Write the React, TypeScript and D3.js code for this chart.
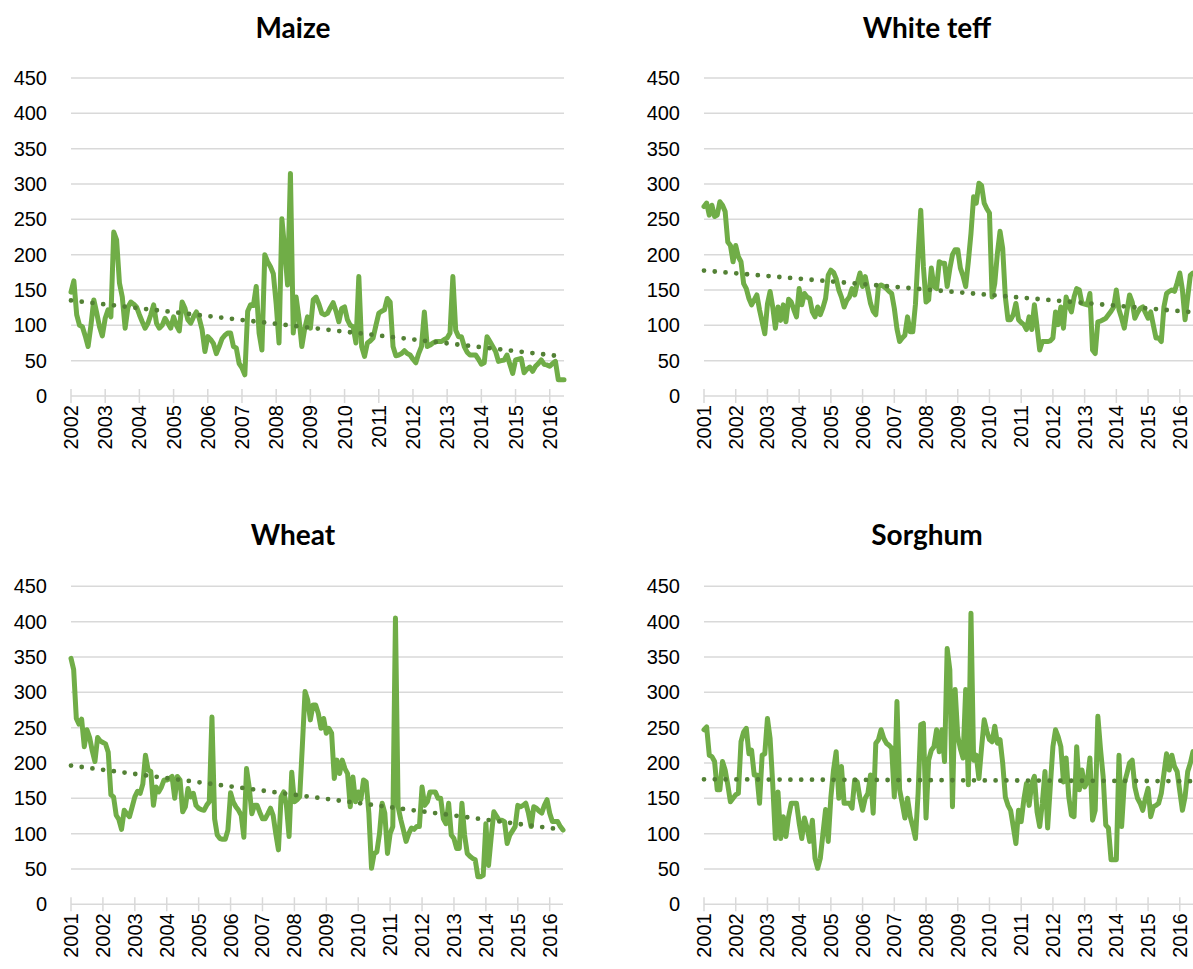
import React from 'react';
import * as d3 from 'd3';

// Monthly price index series, one value per month.
const maizeStartYear = 2002;
const maizePrices = [
  147, 163, 115, 100, 98, 85, 70, 100, 136, 118,
  98, 85, 110, 122, 112, 232, 221, 160, 140, 96,
  126, 133, 130, 126, 115, 105, 96, 103, 115, 129,
  103, 96, 100, 110, 103, 96, 112, 100, 92, 133,
  124, 108, 103, 112, 119, 110, 94, 63, 84, 80,
  74, 60, 70, 81, 86, 89, 89, 70, 68, 46,
  40, 30, 120, 129, 128, 155, 89, 65, 200, 190,
  183, 173, 130, 75, 251, 207, 157, 315, 89, 140,
  110, 70, 95, 112, 96, 136, 140, 130, 117, 115,
  117, 125, 132, 120, 105, 124, 126, 108, 100, 98,
  75, 169, 70, 56, 75, 78, 82, 100, 117, 120,
  122, 138, 133, 70, 57, 58, 60, 64, 60, 58,
  52, 47, 60, 70, 119, 70, 72, 75, 77, 77,
  77, 80, 82, 89, 169, 93, 84, 84, 70, 62,
  58, 58, 58, 52, 45, 47, 84, 77, 70, 63,
  49, 50, 51, 58, 45, 32, 51, 52, 53, 33,
  38, 41, 35, 42, 46, 51, 45, 44, 42, 46,
  49, 23, 23, 23,
];

const teffStartYear = 2001;
const teffPrices = [
  268, 273, 256, 270, 254, 256, 275, 270, 261, 218,
  213, 190, 213, 197, 190, 159, 152, 138, 129, 136,
  143, 122, 105, 88, 130, 148, 126, 96, 126, 107,
  129, 105, 137, 133, 122, 112, 152, 129, 145, 140,
  138, 119, 112, 126, 115, 125, 138, 171, 178, 175,
  166, 150, 140, 126, 135, 140, 152, 143, 160, 174,
  155, 169, 150, 131, 120, 115, 155, 157, 155, 152,
  148, 145, 124, 95, 77, 82, 86, 112, 91, 91,
  130, 200, 263, 183, 133, 136, 181, 155, 152, 190,
  188, 188, 155, 180, 200, 207, 207, 181, 170, 155,
  190, 230, 282, 273, 301, 298, 273, 265, 259, 140,
  159, 202, 233, 209, 140, 108, 108, 115, 131, 108,
  104, 101, 94, 112, 94, 129, 98, 65, 77, 77,
  77, 78, 82, 119, 101, 126, 96, 140, 128, 119,
  140, 152, 150, 131, 130, 129, 145, 65, 60, 105,
  106, 108, 110, 115, 120, 126, 150, 122, 110, 96,
  120, 143, 133, 110, 118, 124, 126, 118, 110, 119,
  100, 82, 82, 77, 126, 145, 148, 150, 148, 160,
  174, 150, 108, 140, 171, 174,
];

const wheatStartYear = 2001;
const wheatPrices = [
  348, 332, 263, 255, 262, 223, 247, 236, 217, 202,
  236, 231, 229, 227, 215, 155, 152, 126, 120, 106,
  133, 128, 124, 138, 152, 160, 157, 170, 211, 190,
  188, 140, 166, 159, 166, 176, 176, 178, 181, 150,
  181, 176, 131, 138, 164, 152, 157, 140, 136, 134,
  133, 140, 145, 265, 121, 98, 93, 92, 92, 105,
  158, 145, 138, 133, 126, 95, 192, 166, 128, 140,
  140, 130, 121, 121, 128, 136, 126, 100, 77, 152,
  159, 140, 96, 187, 145, 148, 152, 225, 301, 289,
  261, 282, 282, 270, 249, 263, 242, 249, 242, 178,
  204, 185, 204, 192, 185, 138, 180, 145, 159, 148,
  176, 173, 129, 51, 72, 74, 100, 143, 129, 72,
  100, 110, 405, 138, 120, 105, 89, 100, 108, 106,
  110, 110, 166, 140, 145, 159, 159, 159, 150, 150,
  121, 114, 143, 98, 93, 79, 79, 143, 98, 72,
  68, 65, 63, 39, 39, 41, 114, 55, 95, 131,
  125, 119, 119, 117, 86, 98, 104, 110, 140, 138,
  140, 143, 129, 110, 138, 136, 132, 129, 140, 148,
  129, 117, 117, 117, 110, 105,
];

const sorghumStartYear = 2001;
const sorghumPrices = [
  247, 251, 211, 209, 202, 162, 162, 202, 190, 169,
  145, 150, 155, 157, 230, 244, 249, 213, 218, 183,
  183, 143, 211, 213, 263, 235, 170, 93, 159, 93,
  124, 96, 124, 143, 143, 143, 115, 93, 122, 108,
  89, 119, 65, 51, 65, 100, 134, 89, 152, 190,
  216, 150, 195, 143, 143, 143, 136, 176, 173, 150,
  133, 150, 157, 183, 129, 228, 233, 247, 235, 228,
  225, 221, 152, 287, 162, 143, 122, 150, 124, 110,
  93, 157, 254, 256, 122, 204, 218, 223, 247, 216,
  247, 202, 362, 332, 138, 304, 238, 220, 207, 304,
  169, 412, 204, 211, 178, 221, 261, 245, 233, 230,
  252, 228, 233, 200, 152, 140, 133, 110, 86, 133,
  117, 148, 171, 140, 171, 181, 131, 110, 143, 188,
  108, 166, 223, 247, 237, 223, 173, 207, 152, 126,
  124, 223, 162, 190, 166, 173, 207, 119, 133, 266,
  220, 181, 112, 108, 63, 63, 63, 211, 110, 171,
  185, 200, 204, 166, 150, 143, 133, 150, 164, 124,
  138, 140, 143, 157, 185, 213, 190, 211, 195, 188,
  160, 133, 152, 188, 200, 216,
];

const yTickValues = [0, 50, 100, 150, 200, 250, 300, 350, 400, 450];

interface PanelSpec {
  title: string;
  values: number[];
  startYear: number;
  left: number;
  right: number;
  top: number;
  bottom: number;
  titleX: number;
  titleY: number;
}

const panels: PanelSpec[] = [
  { title: 'Maize', values: maizePrices, startYear: maizeStartYear, left: 71, right: 564, top: 78, bottom: 396, titleX: 293, titleY: 38 },
  { title: 'White teff', values: teffPrices, startYear: teffStartYear, left: 704, right: 1193, top: 78, bottom: 396, titleX: 927, titleY: 38 },
  { title: 'Wheat', values: wheatPrices, startYear: wheatStartYear, left: 71, right: 563, top: 586.3, bottom: 904.3, titleX: 293, titleY: 545 },
  { title: 'Sorghum', values: sorghumPrices, startYear: sorghumStartYear, left: 704, right: 1193, top: 586.3, bottom: 904.3, titleX: 927, titleY: 545 },
];

const LINE_COLOR = '#70ad47';
const TREND_COLOR = '#538135';
const GRID_COLOR = '#d9d9d9';
const LABEL_FONT = '"Liberation Sans", Arial, sans-serif';
const TITLE_FONT = 'Lato, "Open Sans", sans-serif';

// Ordinary least-squares line over the month index.
function linearFit(values: number[]): [number, number] {
  const n = values.length;
  const mx = (n - 1) / 2;
  const my = d3.mean(values) as number;
  let sxy = 0;
  let sxx = 0;
  values.forEach((v, i) => {
    sxy += (i - mx) * (v - my);
    sxx += (i - mx) * (i - mx);
  });
  const slope = sxy / sxx;
  return [slope, my - slope * mx];
}

function Panel({ spec }: { spec: PanelSpec }) {
  const n = spec.values.length;
  const x = d3.scaleLinear().domain([0, n - 1]).range([spec.left, spec.right]);
  const y = d3.scaleLinear().domain([0, 450]).range([spec.bottom, spec.top]);

  const line = d3
    .line<number>()
    .x((_, i) => x(i))
    .y((v) => y(v));

  const [slope, intercept] = linearFit(spec.values);
  const trend = d3
    .line<number>()
    .x((i) => x(i))
    .y((i) => y(intercept + slope * i));

  const yearTicks: { i: number; label: string }[] = [];
  for (let k = 0; k * 12 <= n - 1; k++) {
    yearTicks.push({ i: k * 12, label: String(spec.startYear + k) });
  }

  return (
    <g>
      <text
        x={spec.titleX}
        y={spec.titleY}
        textAnchor="middle"
        fontFamily={TITLE_FONT}
        fontWeight={700}
        fontSize={28}
        fill="#000"
      >
        {spec.title}
      </text>
      {yTickValues.map((t) => (
        <g key={t}>
          <line
            x1={spec.left}
            x2={spec.right}
            y1={y(t)}
            y2={y(t)}
            stroke={GRID_COLOR}
            strokeWidth={1.5}
          />
          <text
            x={spec.left - 24}
            y={y(t)}
            dy="0.35em"
            textAnchor="end"
            fontFamily={LABEL_FONT}
            fontSize={20}
            fill="#000"
          >
            {t}
          </text>
        </g>
      ))}
      {yearTicks.map((t) => (
        <g key={t.label}>
          <line
            x1={x(t.i)}
            x2={x(t.i)}
            y1={spec.bottom - 7}
            y2={spec.bottom + 7}
            stroke={GRID_COLOR}
            strokeWidth={1.5}
          />
          <text
            transform={`translate(${x(t.i)},${spec.bottom + 9}) rotate(-90)`}
            dy="0.35em"
            textAnchor="end"
            fontFamily={LABEL_FONT}
            fontSize={20}
            fill="#000"
          >
            {t.label}
          </text>
        </g>
      ))}
      <path
        d={line(spec.values) ?? ''}
        fill="none"
        stroke={LINE_COLOR}
        strokeWidth={5}
        strokeLinejoin="round"
        strokeLinecap="round"
      />
      <path
        d={trend([0, n - 1]) ?? ''}
        fill="none"
        stroke={TREND_COLOR}
        strokeWidth={4.8}
        strokeLinecap="round"
        strokeDasharray="0 10.8"
      />
    </g>
  );
}

export default function App() {
  return (
    <svg
      width={1193}
      height={969}
      viewBox="0 0 1193 969"
      style={{ position: 'absolute', left: 0, top: 0, background: '#fff' }}
    >
      <rect x={0} y={0} width={1193} height={969} fill="#fff" />
      {panels.map((p) => (
        <Panel key={p.title} spec={p} />
      ))}
    </svg>
  );
}
